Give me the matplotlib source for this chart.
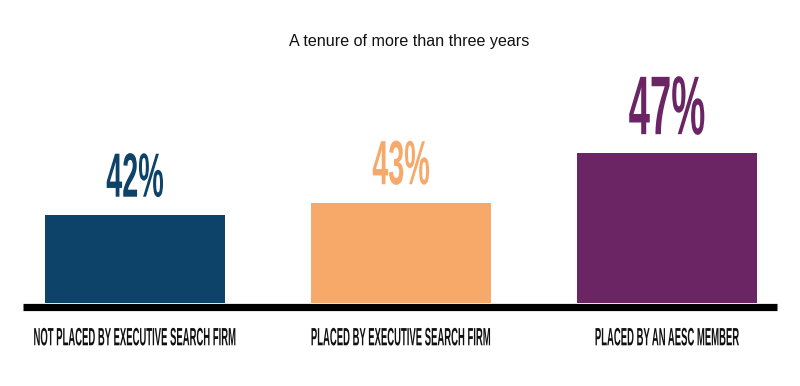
import matplotlib
matplotlib.use("Agg")
import matplotlib.pyplot as plt
from matplotlib.patheffects import AbstractPathEffect
from matplotlib.transforms import Affine2D

# data
categories = ["NOT PLACED BY EXECUTIVE SEARCH FIRM",
              "PLACED BY EXECUTIVE SEARCH FIRM",
              "PLACED BY AN AESC MEMBER"]
values = [42, 43, 47]
value_labels = ["42%", "43%", "47%"]
title = "A tenure of more than three years"

colors = ["#0d4269", "#f7a96a", "#6b2564"]
label_sizes = [45, 45, 60]


class Tall(AbstractPathEffect):
    """Stretch glyphs upward from the baseline, giving a tall condensed look."""

    def __init__(self, sy):
        super().__init__()
        self.sy = sy

    def draw_path(self, renderer, gc, tpath, affine, rgbFace=None):
        renderer.draw_path(gc, tpath, Affine2D().scale(1, self.sy) + affine, rgbFace)


def condensed(ax, x, y, s, size, narrow, **kw):
    # set the width by the font size, then pull the glyphs up to full height
    return ax.text(x, y, s, fontsize=size * narrow, path_effects=[Tall(1 / narrow)],
                   ha="center", va="baseline", fontweight="bold", clip_on=False, **kw)


plt.rcParams["font.family"] = ["Liberation Sans", "DejaVu Sans"]

fig = plt.figure(figsize=(8, 3.86), dpi=100)
ax = fig.add_axes([0, 0.215, 1, 0.648])
x = list(range(len(values)))
ax.bar(x, [v - 35 for v in values], bottom=35, width=0.68, color=colors, zorder=2)
ax.set_xlim(-0.5075, 2.5)
ax.set_ylim(35, 55)

# thick black baseline
ax.plot([-0.421, 2.414], [34.72, 34.72], color="black", lw=5.2, solid_capstyle="butt",
        clip_on=False, zorder=3)

for xi, v, lab, c, fs in zip(x, values, value_labels, colors, label_sizes):
    condensed(ax, xi, v + 1.5, lab, fs, 0.46, color=c)

for xi, cat in zip(x, categories):
    condensed(ax, xi, 31.62, cat, 18, 0.38, color="#111111")

ax.axis("off")
fig.text(0.511, 0.881, title, ha="center", va="baseline", fontsize=11.6, color="#111111")

fig.savefig("out.png", dpi=100)
